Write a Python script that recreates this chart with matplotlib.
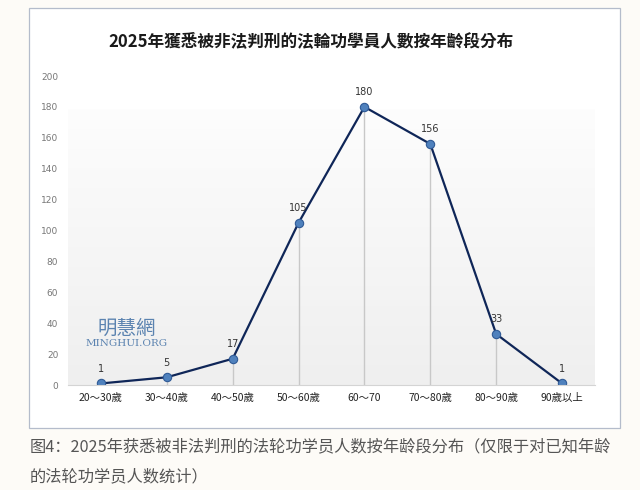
import numpy as np
import matplotlib
matplotlib.use('Agg')
import matplotlib.pyplot as plt
from matplotlib.patches import Rectangle

plt.rcParams['font.family'] = ['Noto Sans CJK TC', 'DejaVu Sans']

age_groups = ['20～30歲', '30～40歲', '40～50歲', '50～60歲',
              '60～70', '70～80歲', '80～90歲', '90歲以上']
counts = [1, 5, 17, 105, 180, 156, 33, 1]
y_ticks = list(range(0, 201, 20))

title = '2025年獲悉被非法判刑的法輪功學員人數按年齡段分布'
caption = ['图4：2025年获悉被非法判刑的法轮功学员人数按年龄段分布（仅限于对已知年龄',
           '的法轮功学员人数统计）']


def main():
    W, H = 640, 490
    fig = plt.figure(figsize=(W / 100, H / 100), dpi=100, facecolor='#fdfbf7')

    # white chart box
    fig.patches.append(Rectangle((29 / W, 1 - 428 / H), 591 / W, 420 / H,
                                 transform=fig.transFigure, facecolor='white',
                                 edgecolor='#b4bccb', linewidth=0.9, zorder=-5))

    ax = fig.add_axes([68 / W, 1 - 385 / H, 527 / W, 309 / H])
    ax.set_zorder(2)
    ax.set_facecolor('none')
    x = np.arange(len(age_groups))
    ax.set_xlim(-0.5, len(age_groups) - 0.5)
    ax.set_ylim(0, 200)

    # soft gradient background of plot area (near white on top, light grey below)
    grad = np.linspace(0.0, 1.0, 256).reshape(-1, 1)
    ax.imshow(grad, extent=(-0.5, len(age_groups) - 0.5, 0, 178), aspect='auto',
              cmap=matplotlib.colors.LinearSegmentedColormap.from_list(
                  'g', ['#fdfdfd', '#efefef']),
              vmin=0, vmax=1, origin='upper', zorder=0)

    ax.vlines(x, 0, counts, color='#c8c8c8', linewidth=1.0, zorder=1)
    ax.plot(x, counts, color='#0f2658', linewidth=1.6, zorder=2,
            marker='o', markersize=6, markerfacecolor='#4f81bd',
            markeredgecolor='#2f5a96', markeredgewidth=0.8)
    for xi, c in zip(x, counts):
        ax.annotate(str(c), (xi, c), xytext=(0, 7), textcoords='offset points',
                    ha='center', va='bottom', fontsize=7, color='#333333',
                    family='DejaVu Sans')

    for s in ['top', 'right', 'left']:
        ax.spines[s].set_visible(False)
    ax.spines['bottom'].set_color('#d4d4d4')
    ax.spines['bottom'].set_zorder(3)

    ax.set_yticks(y_ticks)
    ax.set_yticklabels([str(v) for v in y_ticks], fontsize=6.5, color='#777777',
                       family='DejaVu Sans')
    ax.tick_params(axis='y', length=0, pad=7)
    ax.set_xticks(x)
    ax.set_xticklabels(age_groups, fontsize=7.5, color='#222222')
    ax.tick_params(axis='x', length=0, pad=6)

    # watermark
    ax.text(0.39, 37, '明慧網', fontsize=14, color='#5b83b0', ha='center',
            va='center', zorder=3)
    ax.text(0.39, 27, 'MINGHUI.ORG', fontsize=7.5, color='#5b83b0', ha='center',
            va='center', family='DejaVu Serif', zorder=3)

    fig.text(311 / W, 1 - 41 / H, title, ha='center', va='center', fontsize=12,
             weight='bold', color='#1a1a1a')

    fig.text(30 / W, 1 - 447 / H, caption[0], ha='left', va='center',
             fontsize=11.7, color='#555555', family=['Noto Sans CJK SC', 'DejaVu Sans'])
    fig.text(30 / W, 1 - 477 / H, caption[1], ha='left', va='center',
             fontsize=11.7, color='#555555', family=['Noto Sans CJK SC', 'DejaVu Sans'])

    fig.savefig('out.png', dpi=100, facecolor=fig.get_facecolor())


if __name__ == '__main__':
    main()
